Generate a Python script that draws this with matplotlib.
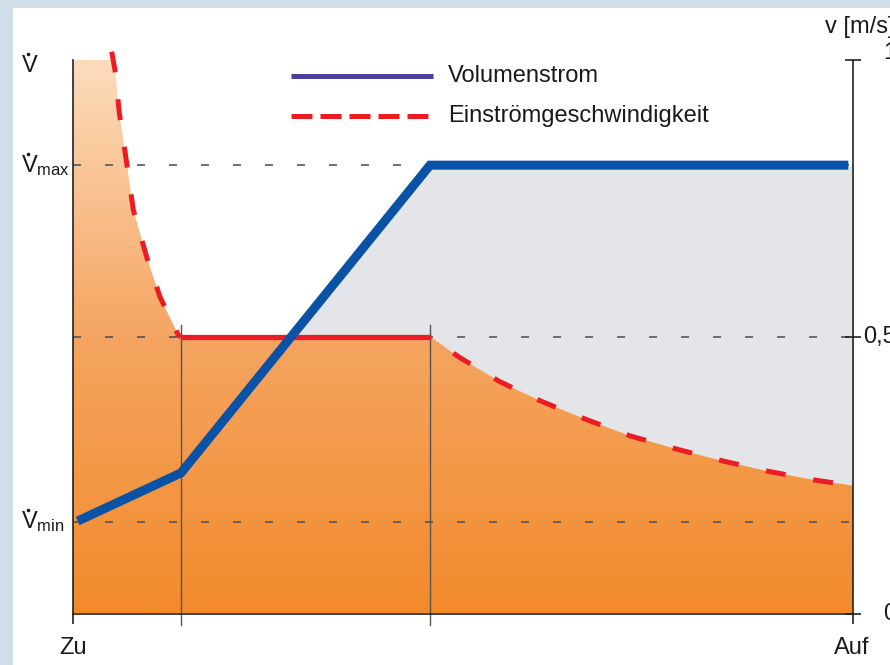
import numpy as np
import matplotlib
matplotlib.use("Agg")
import matplotlib.pyplot as plt
from matplotlib.patches import Rectangle
from matplotlib.colors import LinearSegmentedColormap
from matplotlib.lines import Line2D

plt.rcParams["font.family"] = ["Liberation Sans", "DejaVu Sans"]
plt.rcParams["mathtext.fontset"] = "custom"
plt.rcParams["mathtext.rm"] = "Liberation Sans"
plt.rcParams["mathtext.it"] = "Liberation Sans"
plt.rcParams["mathtext.bf"] = "Liberation Sans:bold"

# ─── Daten (Klappenstellung 0 = Zu … 1 = Auf, v normiert 0 … 1 m/s) ──────────
# Volumenstrom
vol_x = [0.006, 0.1385, 0.4577, 0.994]
vol_y = [0.167, 0.254, 0.810, 0.810]

# Einströmgeschwindigkeit: fallender Ast links, Plateau, fallender Ast rechts
v_left_x = [0.0496, 0.0538, 0.0594, 0.0688, 0.0773, 0.0945, 0.1115, 0.135, 0.1385]
v_left_y = [1.015, 0.982, 0.904, 0.814, 0.729, 0.644, 0.572, 0.503, 0.500]
v_flat_x = [0.1385, 0.4586]
v_flat_y = [0.500, 0.500]
v_right_x = [0.4586, 0.494, 0.547, 0.601, 0.659, 0.714, 0.774, 0.832, 0.891, 0.951, 1.0]
v_right_y = [0.500, 0.464, 0.419, 0.383, 0.350, 0.321, 0.297, 0.276, 0.257, 0.241, 0.231]

# Hilfslinien
v_min, v_max, v_half = 0.165, 0.810, 0.5
x_marks = [0.1385, 0.4577]

right_ticks = [0, 0.5, 1]
right_labels = ["0", "0,5", "1"]

# ─── Farben ──────────────────────────────────────────────────────────────────
BLUE = "#0A52A5"
BLUE_LEG = "#4B3F9C"
RED = "#EC1C24"
GREY_FILL = "#E3E5E8"
GRID = "#555555"
AXIS = "#222222"
TXT = "#1a1a1a"

W, H = 890, 665


def fx(px):
    return px / W


def fy(py):
    return 1 - py / H


def vdot_label(x, y, sub=None):
    # V mit Punkt darüber (Volumenstrom-Symbol), optional mit Index
    txt = r"$\mathrm{V}$" if sub is None else r"$\mathrm{V}_{\mathrm{%s}}$" % sub
    fig.text(fx(x), fy(y), txt, fontsize=17, color=TXT, ha="left", va="baseline")
    fig.add_artist(Line2D([fx(x + 6.5)], [fy(y - 18)], marker="o", ms=2.6,
                          mew=0, color=TXT, transform=fig.transFigure))


fig = plt.figure(figsize=(W / 100, H / 100), dpi=100)
fig.patch.set_facecolor("#D0DEEA")
fig.add_artist(Rectangle((fx(13), 0), 1 - fx(13), fy(8), transform=fig.transFigure,
                         fc="white", ec="none", zorder=-1))

ax = fig.add_axes([fx(73), fy(613.5), fx(853) - fx(73), fy(60) - fy(613.5)])
ax.set_facecolor("none")
ax.set_xlim(0, 1)
ax.set_ylim(0, 1)

# ─── Flächen ────────────────────────────────────────────────────────────────
red_x = np.array(v_left_x + v_flat_x + v_right_x)
red_y = np.array(v_left_y + v_flat_y + v_right_y)
xg = np.linspace(0, 1, 1200)
red_g = np.minimum(np.interp(xg, red_x, red_y), 1.0)
blue_g = np.interp(xg, vol_x, vol_y)

ax.fill_between(xg, red_g, blue_g, where=blue_g >= red_g, interpolate=True,
                color=GREY_FILL, lw=0, zorder=1)

poly = ax.fill_between(xg, 0, red_g, color="none", lw=0)
cmap = LinearSegmentedColormap.from_list("orng", ["#F28A2C", "#F5A561", "#FDDCBD"])
grad = np.linspace(0, 1, 256).reshape(-1, 1)
im = ax.imshow(grad, cmap=cmap, extent=[0, 1, 0, 1], origin="lower",
               aspect="auto", zorder=2)
im.set_clip_path(poly.get_paths()[0], transform=ax.transData)

# ─── Hilfslinien ────────────────────────────────────────────────────────────
for yv in [v_min, v_half, v_max]:
    ax.plot([0, 1], [yv, yv], color=GRID, lw=1.2, dashes=(4.8, 14.4), zorder=3)
for xv in x_marks:
    ax.plot([xv, xv], [-0.02, 0.522], color=GRID, lw=1.0, zorder=3, clip_on=False)

# ─── Kurven ─────────────────────────────────────────────────────────────────
ax.plot(v_left_x, v_left_y, color=RED, lw=3.6, linestyle=(0, (4.2, 5.4)),
        zorder=4, clip_on=False)
ax.plot(v_flat_x, v_flat_y, color=RED, lw=3.8, solid_capstyle="butt", zorder=4)
ax.plot(v_right_x, v_right_y, color=RED, lw=3.6, linestyle=(4, (4, 5.6)),
        zorder=4)
ax.plot(vol_x, vol_y, color=BLUE, lw=6.5, solid_capstyle="butt",
        solid_joinstyle="miter", zorder=5)

# ─── Achsen ─────────────────────────────────────────────────────────────────
ax.spines["top"].set_visible(False)
for s in ["left", "bottom", "right"]:
    ax.spines[s].set_color(AXIS)
    ax.spines[s].set_linewidth(1.2)
    ax.spines[s].set_zorder(6)
ax.set_xticks([0, 1])
ax.set_xticklabels([])
ax.tick_params(axis="x", direction="out", length=7, width=1.2, color=AXIS)
ax.set_yticks([])
ax2 = ax.twinx()
ax2.set_ylim(0, 1)
for s in ["top", "left", "bottom", "right"]:
    ax2.spines[s].set_visible(False)
ax2.set_yticks(right_ticks)
ax2.set_yticklabels([])
ax2.tick_params(axis="y", direction="inout", length=12, width=1.2, color=AXIS)

for yv, lab in zip(right_ticks, right_labels):
    yy = yv if yv != 1 else 1.012
    ax.text(1.0 + 43 / 780, yy, lab, ha="right", va="center",
            fontsize=17, color=TXT, transform=ax.get_yaxis_transform(),
            clip_on=False)

# ─── Beschriftungen ─────────────────────────────────────────────────────────
vdot_label(21, 72)
vdot_label(21, 172, "max")
vdot_label(21, 528, "min")
fig.text(fx(73), fy(648), "Zu", fontsize=17, color=TXT, ha="center", va="center")
fig.text(fx(852), fy(648), "Auf", fontsize=17, color=TXT, ha="center", va="center")
fig.text(fx(825), fy(27), "v [m/s]", fontsize=17, color=TXT, ha="left", va="center")

# ─── Legende ────────────────────────────────────────────────────────────────
fig.add_artist(Line2D([fx(291), fx(433)], [fy(76), fy(76)], color=BLUE_LEG,
                      lw=3.6, solid_capstyle="butt", transform=fig.transFigure))
fig.add_artist(Line2D([fx(291), fx(433)], [fy(116), fy(116)], color=RED,
                      lw=3.6, linestyle=(0, (4.2, 1.6)), transform=fig.transFigure))
fig.text(fx(448), fy(76), "Volumenstrom", fontsize=17, color=TXT, va="center")
fig.text(fx(448), fy(116), "Einströmgeschwindigkeit", fontsize=17, color=TXT,
         va="center")

fig.savefig("out.png", dpi=100)
